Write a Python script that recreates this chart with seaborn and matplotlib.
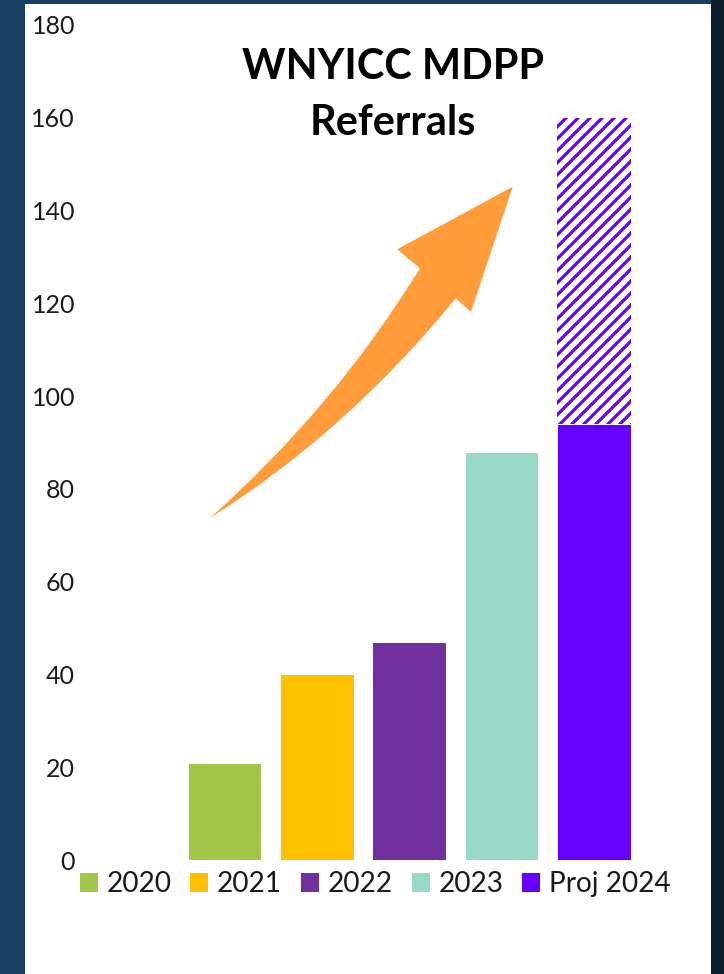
import matplotlib
matplotlib.use('Agg')
import matplotlib.pyplot as plt
import seaborn as sns
import pandas as pd
from matplotlib.patches import Rectangle, Patch, PathPatch
from matplotlib.path import Path

categories = ['2020', '2021', '2022', '2023', 'Proj 2024']
referrals = [21, 40, 47, 88, 94]
projected_2024_total = 160
colors = ['#A2C648', '#FFC000', '#7030A0', '#97D8C7', '#6600FF']
yticks = [0, 20, 40, 60, 80, 100, 120, 140, 160, 180]
title = 'WNYICC MDPP\nReferrals'

W, H, DPI = 724, 974, 72

sns.set_theme(style='white')
plt.rcParams['font.family'] = ['Lato', 'DejaVu Sans']
plt.rcParams['hatch.linewidth'] = 3.2

fig = plt.figure(figsize=(W / DPI, H / DPI), dpi=DPI, facecolor='#173E61')
# darker right strip and white slide panel
fig.patches.append(Rectangle((711 / W, 0), 13 / W, 1, transform=fig.transFigure,
                             facecolor='#0C1D2A', edgecolor='none', zorder=-2))
fig.patches.append(Rectangle((25 / W, 0), 686 / W, 1 - 4 / H, transform=fig.transFigure,
                             facecolor='white', edgecolor='none', zorder=-1))

ax = fig.add_axes([86 / W, 1 - 860 / H, (640 - 86) / W, (860 - 25) / H])
ax.set_zorder(1)
ax.set_facecolor('none')

df = pd.DataFrame({'Year': categories, 'Referrals': referrals})
sns.barplot(data=df, x='Year', y='Referrals', hue='Year', palette=colors,
            saturation=1, width=0.8, legend=False, ax=ax, zorder=3)

# projected remainder (hatched)
pi = categories.index('Proj 2024')
ax.bar(pi, projected_2024_total - referrals[pi], bottom=referrals[pi], width=0.8,
       facecolor='white', edgecolor=colors[pi], hatch='//', linewidth=0, zorder=2)

ax.set_xlim(-1.5, len(categories) - 0.5)
ax.set_ylim(0, 180)
ax.set_yticks(yticks)
ax.set_xticks([])
ax.set_xlabel('')
ax.set_ylabel('')
for s in ax.spines.values():
    s.set_visible(False)
ax.tick_params(axis='y', labelsize=25, pad=11, length=0, colors='#1a1a1a')

# title
fig.text(393 / W, 1 - 95 / H, title, ha='center', va='center', fontsize=41.5,
         fontweight='bold', color='black', linespacing=1.6, zorder=6)

# orange trend arrow (decoration), pixel coords from top-left
def P(x, y):
    return (x / W, 1 - y / H)

verts = [P(210, 518), P(335, 407), P(420, 268.3), P(397.3, 249.3), P(512.7, 186.7),
         P(471, 311.7), P(455.7, 298.3), P(347.1, 431.8), P(210, 518), P(210, 518)]
codes = [Path.MOVETO, Path.CURVE3, Path.CURVE3, Path.LINETO, Path.LINETO,
         Path.LINETO, Path.LINETO, Path.CURVE3, Path.CURVE3, Path.CLOSEPOLY]
arrow = PathPatch(Path(verts, codes), transform=fig.transFigure,
                  facecolor='#FF9B38', edgecolor='none', zorder=5)
fig.patches.append(arrow)

handles = [Patch(facecolor=c, edgecolor='none', label=l) for c, l in zip(colors, categories)]
fig.legend(handles=handles, ncol=5, loc='center', bbox_to_anchor=(375 / W, 1 - 884 / H),
           frameon=False, fontsize=28, handlelength=0.65, handleheight=0.65,
           handletextpad=0.3, columnspacing=0.68, labelcolor='#1a1a1a')

fig.savefig('out.png', dpi=DPI, facecolor=fig.get_facecolor())
